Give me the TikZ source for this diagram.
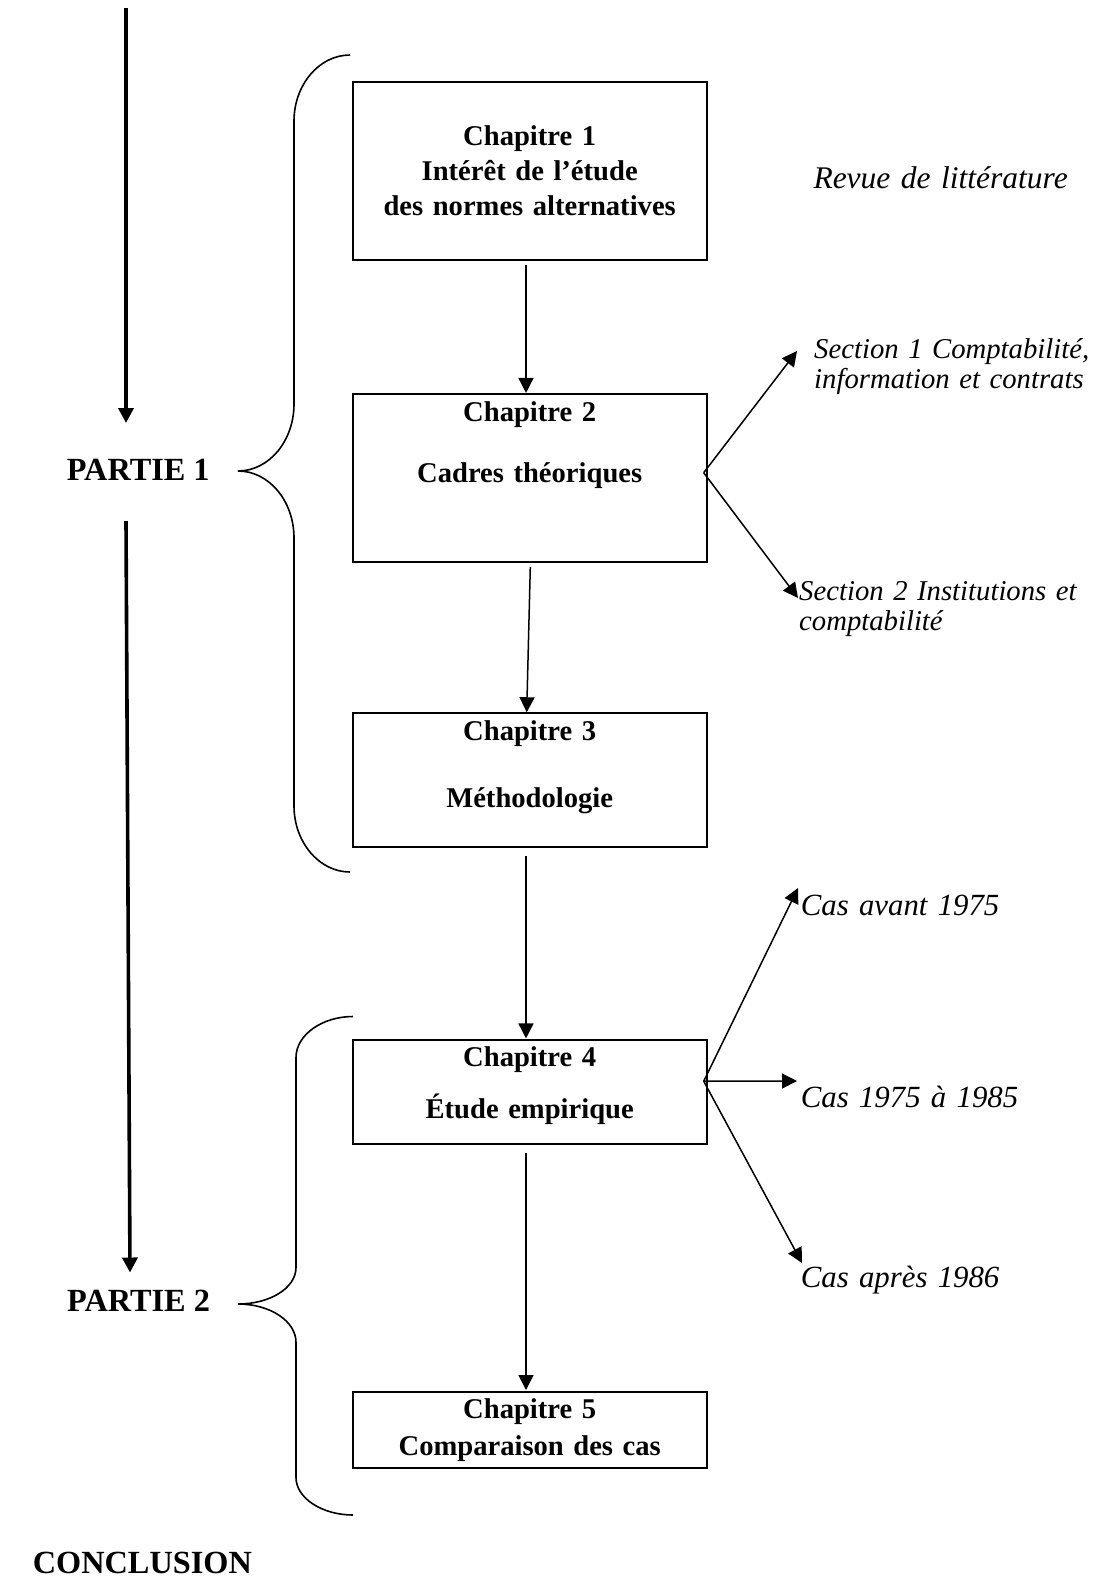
\documentclass[tikz,border=0pt]{standalone}
\usepackage{fontspec}
\setmainfont{Liberation Serif}
\usetikzlibrary{arrows.meta,calc}

\newlength{\du}
\setlength{\du}{1pt}

\tikzset{
  chbox/.style={draw, line width=2\du, minimum width=354\du, inner sep=0pt},
  chtext/.style={anchor=base, text width=350\du, align=center, inner sep=0pt,
    font=\fontsize{28.6}{35}\selectfont\bfseries},
  sidetext/.style={anchor=base west, text width=330\du, align=left, inner sep=0pt,
    font=\fontsize{30.8}{31.5}\selectfont\itshape},
  secttext/.style={sidetext, font=\fontsize{28.7}{30.5}\selectfont\itshape},
  parttext/.style={anchor=base west, inner sep=0pt,
    font=\fontsize{32.3}{35}\selectfont\bfseries},
  link/.style={line width=1.5\du, -{Triangle[width=15pt,length=15pt]}},
  partlink/.style={line width=3.6\du, -{Triangle[width=15pt,length=15pt]}},
  brace/.style={line width=1.6\du}
}

\begin{document}
\begin{tikzpicture}[x=\du,y=-\du]
\useasboundingbox (0,0) rectangle (1101,1580);

% chapter boxes
\node[chbox, minimum height=177.5\du] (ch1) at (529.7,171.2) {};
\node[chbox, minimum height=168.5\du] (ch2) at (529.7,478.2) {};
\node[chbox, minimum height=133.7\du] (ch3) at (529.7,780.1) {};
\node[chbox, minimum height=103.5\du] (ch4) at (529.7,1092.2) {};
\node[chbox, minimum height=76\du] (ch5) at (529.7,1430) {};

\node[chtext] (ch1t) at (529.7,145) {Chapitre 1\\Intérêt de l’étude\\des normes alternatives};
\node[chtext] (ch2t) at (529.7,421) {Chapitre 2\\[26\du]Cadres théoriques};
\node[chtext] (ch3t) at (529.7,740) {Chapitre 3\\[32\du]Méthodologie};
\node[chtext] (ch4t) at (529.7,1066) {Chapitre 4\\[17\du]Étude empirique};
\node[chtext] (ch5t) at (529.7,1418) {Chapitre 5\\[2\du]Comparaison des cas};

% side labels
\node[sidetext, font=\fontsize{31.5}{31.5}\selectfont\itshape] (rev) at (813.3,188.3) {Revue de littérature};
\node[secttext] (sec1) at (814,358.3) {Section 1 Comptabilité,\\information et contrats};
\node[secttext] (sec2) at (799,600) {Section 2 Institutions et\\comptabilité};
\node[sidetext] (cas1) at (800.7,915) {Cas avant 1975};
\node[sidetext] (cas2) at (800.7,1107) {Cas 1975 à 1985};
\node[sidetext] (cas3) at (800.7,1287) {Cas après 1986};

\node[parttext] (p1) at (66.7,480) {PARTIE 1};
\node[parttext] (p2) at (67,1311) {PARTIE 2};
\node[parttext] (concl) at (32.7,1573) {CONCLUSION};

% chapter to chapter
\draw[link] ($(ch1.south)+(-3.7,4.5)$) -- ($(ch2.north)+(-3.7,0)$);
\draw[link] ($(ch2.south)+(0.6,3.5)$) -- ($(ch3.north)+(-3,0)$);
\draw[link] ($(ch3.south)+(-3.7,8.5)$) -- ($(ch4.north)+(-3.7,-1)$);
\draw[link] ($(ch4.south)+(-3.7,8.5)$) -- ($(ch5.north)+(-3.7,-1)$);

% branches
\coordinate (b2) at ($(ch2.east)+(-4,-5.5)$);
\coordinate (e1) at (797,351);
\coordinate (e2) at (798,598);
\draw[link] (b2) -- (e1);
\draw[link] (b2) -- (e2);

\coordinate (b4) at ($(ch4.east)+(-4,-11)$);
\coordinate (f1) at (798,888);
\coordinate (f2) at (797,1081);
\coordinate (f3) at (802,1263);
\draw[link] (b4) -- (f1);
\draw[link] (b4) -- (f2);
\draw[link] (b4) -- (f3);

% left arrows
\coordinate (a0) at (126,8);
\coordinate (a1) at (126,423);
\coordinate (a2) at (126,521);
\coordinate (a3) at (130,1272.5);
\draw[partlink] (a0) -- (a1);
\draw[partlink] (a2) -- (a3);

% braces
\draw[brace] (350,55) .. controls (319,55) and (294,85) .. (294,121) -- (294,404)
  .. controls (294,441) and (269,471) .. (238,471)
  .. controls (269,471) and (294,501) .. (294,538) -- (294,806)
  .. controls (294,842) and (319,872) .. (350,872);
\draw[brace] (353,1016.5) .. controls (322,1016.5) and (296,1035) .. (296,1057.5) -- (296,1267.5)
  .. controls (296,1288) and (270,1304) .. (238,1304)
  .. controls (270,1304) and (296,1321) .. (296,1342.5) -- (296,1477.5)
  .. controls (296,1498) and (322,1515) .. (353,1515);
\end{tikzpicture}
\end{document}
